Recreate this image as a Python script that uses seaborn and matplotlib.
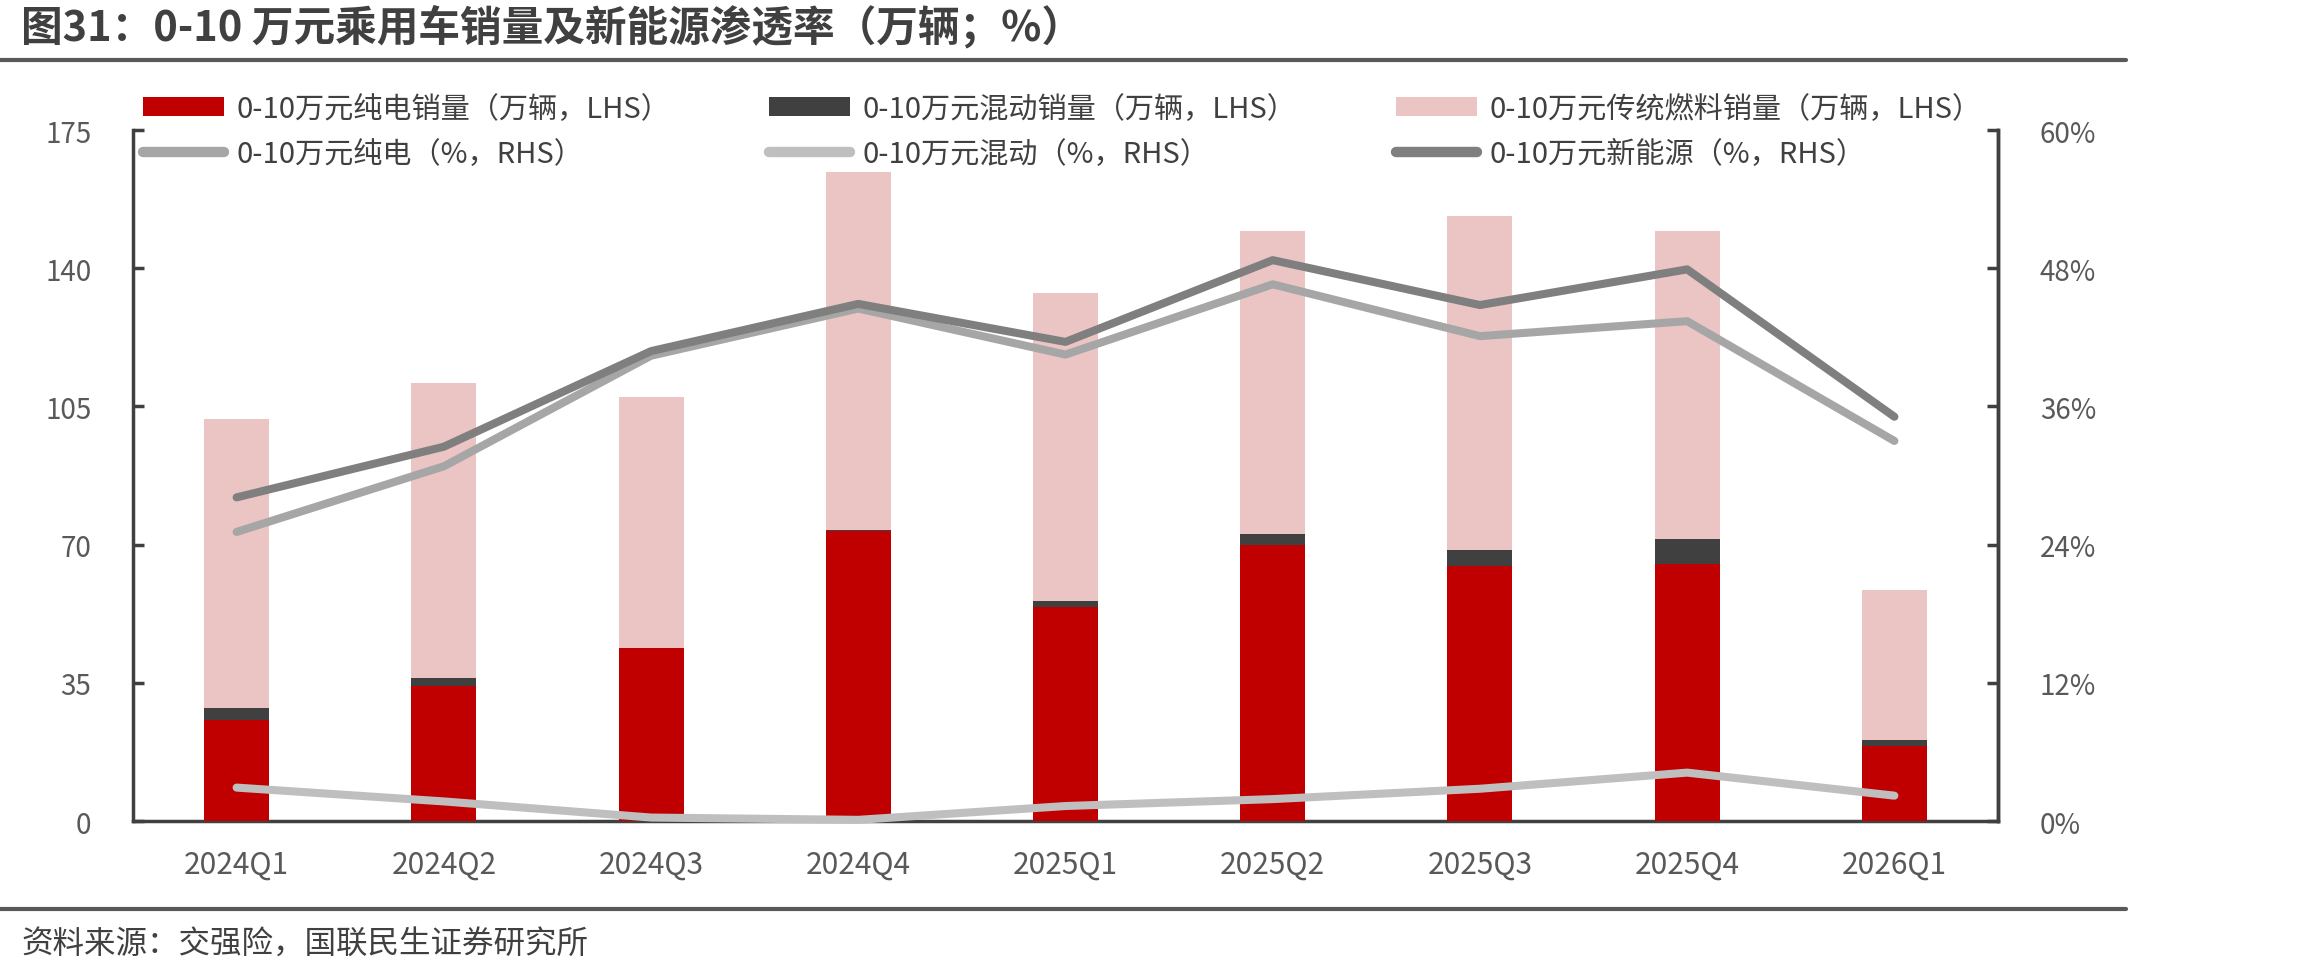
import numpy as np
import pandas as pd
import matplotlib
matplotlib.use('Agg')
import matplotlib.pyplot as plt
from matplotlib.lines import Line2D
from matplotlib.patches import Patch
import seaborn as sns

# data
quarters = ['2024Q1', '2024Q2', '2024Q3', '2024Q4', '2025Q1', '2025Q2', '2025Q3', '2025Q4', '2026Q1']
bev_sales = [25.5, 34.2, 43.7, 73.5, 54.1, 69.8, 64.5, 65.1, 19.1]
hev_sales = [3.1, 1.9, 0.2, 0.1, 1.6, 3.0, 4.2, 6.2, 1.3]
ice_sales = [73.3, 74.8, 63.5, 90.8, 78.1, 76.7, 84.4, 78.2, 38.0]
bev_pct = [25.1, 30.8, 40.4, 44.5, 40.5, 46.6, 42.1, 43.4, 33.0]
hev_pct = [2.9, 1.7, 0.3, 0.1, 1.3, 1.9, 2.8, 4.2, 2.2]
nev_pct = [28.1, 32.5, 40.8, 44.9, 41.6, 48.7, 44.8, 47.9, 35.1]
left_ticks = [0, 35, 70, 105, 140, 175]
right_ticks = [0, 12, 24, 36, 48, 60]

lab_bev = '0-10万元纯电销量（万辆，LHS）'
lab_hev = '0-10万元混动销量（万辆，LHS）'
lab_ice = '0-10万元传统燃料销量（万辆，LHS）'
lab_bevp = '0-10万元纯电（%，RHS）'
lab_hevp = '0-10万元混动（%，RHS）'
lab_nevp = '0-10万元新能源（%，RHS）'

RED = '#C00000'
DARK = '#404040'
PINK = '#EBC4C4'
C_BEVP = '#A6A6A6'
C_HEVP = '#BFBFBF'
C_NEVP = '#7F7F7F'
AX = '#404040'
TXT = '#595959'

sns.set_theme(style='white')
plt.rcParams['font.family'] = ['Noto Sans CJK SC', 'DejaVu Sans']

df = pd.DataFrame({'q': quarters, 'bev': bev_sales, 'hev': hev_sales, 'ice': ice_sales})
df['bev_hev'] = df['bev'] + df['hev']
df['total'] = df['bev_hev'] + df['ice']

fig = plt.figure(figsize=(23.1, 9.78), dpi=100)
ax = fig.add_axes([133 / 2310, 1 - 822 / 978, (1998 - 133) / 2310, (822 - 131) / 978])

# stacked bars by overdrawing cumulative heights
bw = 0.314
sns.barplot(data=df, x='q', y='total', color=PINK, width=bw, saturation=1, ax=ax, zorder=2)
sns.barplot(data=df, x='q', y='bev_hev', color=DARK, width=bw, saturation=1, ax=ax, zorder=3)
sns.barplot(data=df, x='q', y='bev', color=RED, width=bw, saturation=1, ax=ax, zorder=4)
for p in ax.patches:
    p.set_edgecolor('none')

ax.set_xlim(-0.5, len(quarters) - 0.5)
ax.set_ylim(0, 175)
ax.set_yticks(left_ticks)
ax.set_xlabel('')
ax.set_ylabel('')

ax2 = ax.twinx()
xs = np.arange(len(quarters))
lw = 5.8
sns.lineplot(x=xs, y=bev_pct, color=C_BEVP, linewidth=lw, ax=ax2, solid_capstyle='round', solid_joinstyle='round', clip_on=False)
sns.lineplot(x=xs, y=hev_pct, color=C_HEVP, linewidth=lw, ax=ax2, solid_capstyle='round', solid_joinstyle='round', clip_on=False)
sns.lineplot(x=xs, y=nev_pct, color=C_NEVP, linewidth=lw, ax=ax2, solid_capstyle='round', solid_joinstyle='round', clip_on=False)
ax2.set_ylim(0, 60)
ax2.set_yticks(right_ticks)
ax2.set_yticklabels([f'{t}%' for t in right_ticks])
ax2.set_xlim(-0.5, len(quarters) - 0.5)

for a in (ax, ax2):
    a.spines['top'].set_visible(False)
    for s in ['left', 'right', 'bottom']:
        a.spines[s].set_color(AX)
        a.spines[s].set_linewidth(2.5)
    a.grid(False)

ax.tick_params(axis='y', direction='in', length=8, width=2.5, color=AX, pad=30, labelsize=20, labelcolor=TXT)
ax.tick_params(axis='x', length=0, pad=20, labelsize=21.5, labelcolor=TXT)
ax2.tick_params(axis='y', direction='in', length=8, width=2.5, color=AX, pad=30, labelsize=20, labelcolor=TXT)
ax2.spines['left'].set_visible(False)
ax2.spines['bottom'].set_visible(False)

handles = [
    Patch(facecolor=RED, edgecolor='none'),
    Line2D([], [], color=C_BEVP, lw=7.5, solid_capstyle='round'),
    Patch(facecolor=DARK, edgecolor='none'),
    Line2D([], [], color=C_HEVP, lw=7.5, solid_capstyle='round'),
    Patch(facecolor=PINK, edgecolor='none'),
    Line2D([], [], color=C_NEVP, lw=7.5, solid_capstyle='round'),
]
labels = [lab_bev, lab_bevp, lab_hev, lab_hevp, lab_ice, lab_nevp]
leg = fig.legend(handles, labels, ncol=3, loc='upper left', bbox_to_anchor=(143 / 2310, 1 - 95 / 978),
                 frameon=False, fontsize=21, handlelength=2.77, handleheight=0.6, handletextpad=0.43,
                 columnspacing=3.4, labelspacing=0.5, borderpad=0, borderaxespad=0)
for t in leg.get_texts():
    t.set_color(DARK)

fig.text(21 / 2310, 1 - 28 / 978, '图31：0-10 万元乘用车销量及新能源渗透率（万辆；%）',
         fontsize=30, fontweight='bold', color=DARK, va='center', ha='left')
fig.add_artist(Line2D([0, 2126 / 2310], [1 - 61 / 978] * 2, color='#595959', lw=3))
fig.add_artist(Line2D([0, 2126 / 2310], [1 - 910 / 978] * 2, color='#595959', lw=3))
fig.text(21 / 2310, 1 - 944 / 978, '资料来源：交强险，国联民生证券研究所',
         fontsize=22.7, color=DARK, va='center', ha='left')

fig.savefig('out.png', dpi=100)
